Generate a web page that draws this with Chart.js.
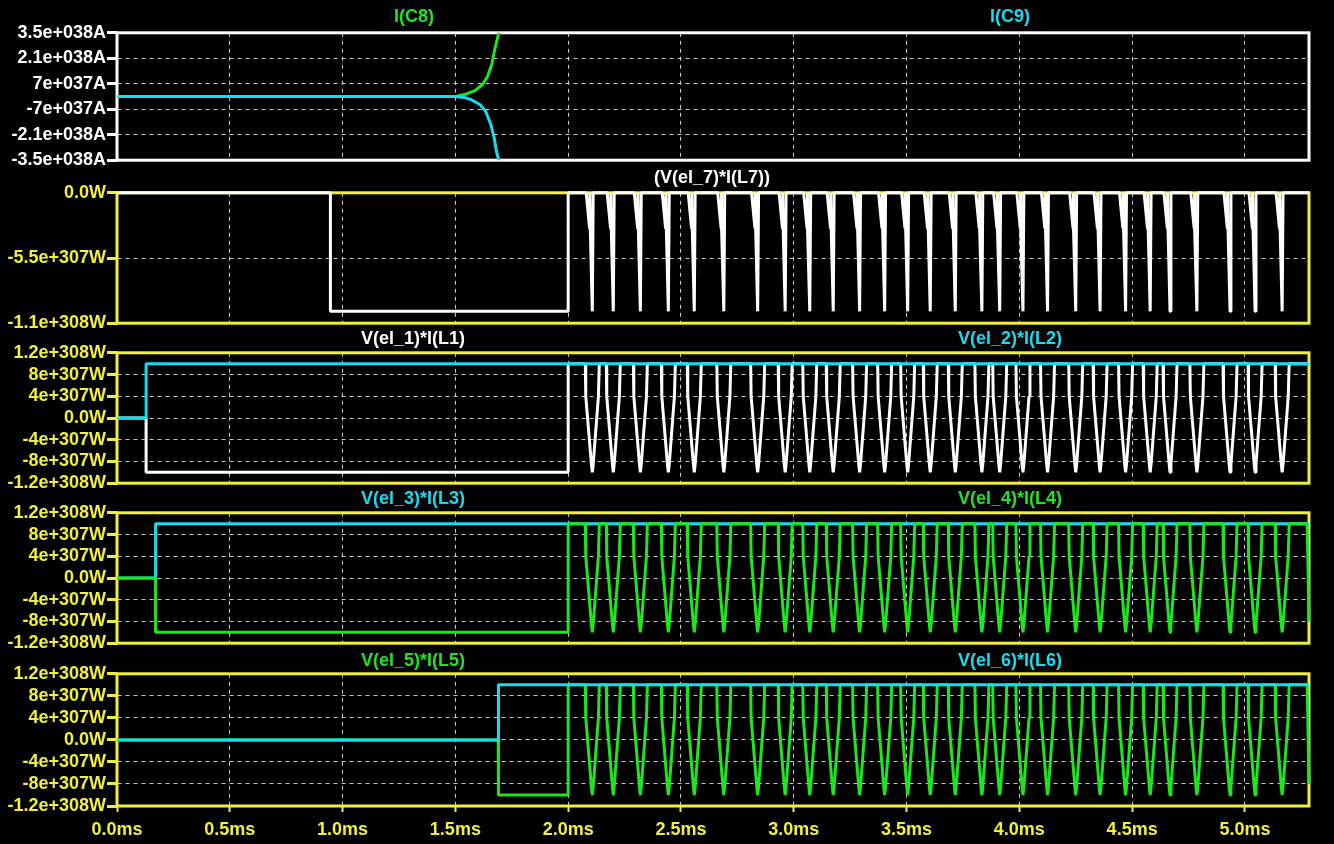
<!DOCTYPE html>
<html>
<head>
<meta charset="utf-8">
<script src="https://cdn.jsdelivr.net/npm/chart.js@4.4.0/dist/chart.umd.min.js"></script>
<style>
    html, body { margin: 0; padding: 0; background: #000; width: 1334px; height: 844px; overflow: hidden; }
    .pane { position: absolute; left: 0; }
    .trace { position: absolute; font: bold 18px 'Liberation Sans', Arial, sans-serif; white-space: nowrap; transform: translate(-50%, -50%); line-height: 20px; }
</style>
</head>
<body>
<canvas id="pane1" class="pane"></canvas>
<canvas id="pane2" class="pane"></canvas>
<canvas id="pane3" class="pane"></canvas>
<canvas id="pane4" class="pane"></canvas>
<canvas id="pane5" class="pane"></canvas>

<div class="trace" style="left:414px;top:16px;color:#1ee61e">I(C8)</div>
<div class="trace" style="left:1010px;top:16px;color:#16dcf0">I(C9)</div>
<div class="trace" style="left:712px;top:177px;color:#ffffff">(V(el_7)*I(L7))</div>
<div class="trace" style="left:413px;top:338px;color:#ffffff">V(el_1)*I(L1)</div>
<div class="trace" style="left:1010px;top:338px;color:#16dcf0">V(el_2)*I(L2)</div>
<div class="trace" style="left:413px;top:498px;color:#16dcf0">V(el_3)*I(L3)</div>
<div class="trace" style="left:1010px;top:498px;color:#1ee61e">V(el_4)*I(L4)</div>
<div class="trace" style="left:413px;top:660px;color:#1ee61e">V(el_5)*I(L5)</div>
<div class="trace" style="left:1010px;top:660px;color:#16dcf0">V(el_6)*I(L6)</div>

<script>
// ---- time axis (ms) ----
const xTicks = [0, 0.5, 1.0, 1.5, 2.0, 2.5, 3.0, 3.5, 4.0, 4.5, 5.0];
const xTickLabels = ['0.0ms', '0.5ms', '1.0ms', '1.5ms', '2.0ms', '2.5ms', '3.0ms', '3.5ms', '4.0ms', '4.5ms', '5.0ms'];
const xEnd = 5.284;

// ---- y axes (values kept in scaled units, the doubles would overflow otherwise) ----
// pane 1 in units of 1e37 A
const iTicks = [35, 21, 7, -7, -21, -35];
const iTickLabels = ['3.5e+038A', '2.1e+038A', '7e+037A', '-7e+037A', '-2.1e+038A', '-3.5e+038A'];
// pane 2 in units of 1e307 W
const l7Ticks = [0, -5.5, -11];
const l7TickLabels = ['0.0W', '-5.5e+307W', '-1.1e+308W'];
// panes 3-5 in units of 1e307 W
const pTicks = [12, 8, 4, 0, -4, -8, -12];
const pTickLabels = ['1.2e+308W', '8e+307W', '4e+307W', '0.0W', '-4e+307W', '-8e+307W', '-1.2e+308W'];

// ---- capacitor currents [ms, 1e37 A] ----
const iC8 = [[0, 0], [1.5, 0], [1.547, 1.3], [1.587, 3.2], [1.618, 6.3], [1.642, 10.8], [1.662, 17.9], [1.673, 25.1], [1.684, 30.5], [1.692, 35]];
const iC9 = [[0, 0], [1.5, 0], [1.539, -0.5], [1.571, -1.8], [1.61, -4.5], [1.634, -8.1], [1.657, -15.3], [1.673, -23.3], [1.681, -29.6], [1.692, -35]];

// ---- pulse bottoms after 2 ms (ms), same instants in every power pane ----
const pulseTimes = [2.107, 2.200, 2.320, 2.444, 2.559, 2.690, 2.840, 2.962, 3.071, 3.175,
                    3.292, 3.403, 3.505, 3.605, 3.716, 3.834, 3.913, 4.016, 4.125, 4.250,
                    4.358, 4.471, 4.580, 4.668, 4.787, 4.934, 5.045, 5.165];

// pulse outlines: [ms from pulse bottom, fraction of level]
const narrowPulse = [[-0.027, 0], [-0.012, -0.3], [-0.011, 0], [-0.009, -0.3], [0, -1], [0.004, 0]];
const vPulse = [[-0.031, 1], [-0.029, 0.4], [-0.004, -0.85], [0, -1], [0.004, -0.85], [0.027, 0.4], [0.031, 1]];

// ---- step parts of the power traces [ms, 1e307 W] ----
const l7Head = [[0, 0], [0.946, 0], [0.946, -10], [2.0, -10], [2.0, 0]];
const l7Tail = [[xEnd, 0]];
const l1Head = [[0, 0], [0.129, 0], [0.129, -10], [2.0, -10], [2.0, 10]];
const l1Tail = [[xEnd, 10]];
const l2 = [[0, 0], [0.129, 0], [0.129, 10], [xEnd, 10]];
const l3 = [[0, 0], [0.171, 0], [0.171, 10], [xEnd, 10]];
const l4Head = [[0, 0], [0.171, 0], [0.171, -10], [2.0, -10], [2.0, 10]];
const l4Tail = [[5.276, 10], [xEnd, -8]];
const l5Head = [[0, 0], [1.690, 0], [1.690, -5], [1.692, -10], [2.0, -10], [2.0, 10]];
const l5Tail = [[5.276, 10], [xEnd, -8]];
const l6 = [[0, 0], [1.690, 0], [1.690, 5], [1.692, 10], [xEnd, 10]];

const YELLOW = '#f0ef3c';
const WHITE = '#ffffff';
const GREEN = '#1ee61e';
const CYAN = '#16dcf0';
const GRID = '#c8c8c8';
const DASH = [4, 4];
const FONT = { family: "'Liberation Sans', Arial, sans-serif", size: 18, weight: 'bold' };

const toPts = arr => arr.map(p => ({ x: p[0], y: p[1] }));

function withPulses(head, shape, level, tail) {
    const pts = toPts(head);
    pulseTimes.forEach(t => shape.forEach(s => pts.push({ x: t + s[0], y: s[1] * level })));
    return pts.concat(toPts(tail));
}

const framePlugin = {
    id: 'frame',
    beforeDatasetsDraw(chart, args, opts) {
        const { ctx, chartArea: a } = chart;
        ctx.save();
        ctx.strokeStyle = opts.color;
        ctx.lineWidth = 3;
        ctx.strokeRect(a.left, a.top, a.right - a.left, a.bottom - a.top);
        ctx.restore();
    }
};

// the first dataset is painted last, so list the trace that sits on top first
function trace(data, color) {
    return { data: data, borderColor: color, borderWidth: 3, borderJoinStyle: 'bevel', pointRadius: 0, tension: 0, clip: 3 };
}

function makePane(id, top, bottom, color, yTicks, yLabels, datasets, withXLabels) {
    const canvas = document.getElementById(id);
    const xh = withXLabels ? 38 : 10;
    canvas.width = 1334;
    canvas.height = (bottom - top) + 10 + xh;
    canvas.style.top = (top - 10) + 'px';

    new Chart(canvas, {
        type: 'line',
        data: { datasets: datasets },
        plugins: [framePlugin],
        options: {
            responsive: false,
            animation: false,
            devicePixelRatio: 1,
            layout: { padding: { top: 10, right: 1334 - 1309, bottom: 0, left: 0 } },
            plugins: { legend: { display: false }, tooltip: { enabled: false }, frame: { color: color } },
            scales: {
                x: {
                    type: 'linear',
                    min: 0,
                    max: xEnd,
                    afterBuildTicks: s => { s.ticks = xTicks.map(v => ({ value: v })); },
                    afterFit: s => { s.height = xh; },
                    grid: { color: GRID, lineWidth: 1, borderDash: DASH, drawTicks: withXLabels, tickLength: 6, tickColor: color, tickWidth: 2, tickBorderDash: [] },
                    border: { display: true, width: 0.01, color: 'rgba(0,0,0,0)', dash: DASH },
                    ticks: {
                        display: withXLabels,
                        autoSkip: false,
                        maxRotation: 0,
                        padding: 7,
                        color: color,
                        font: FONT,
                        callback: (v, i) => xTickLabels[i]
                    }
                },
                y: {
                    min: yTicks[yTicks.length - 1],
                    max: yTicks[0],
                    afterBuildTicks: s => { s.ticks = yTicks.slice().reverse().map(v => ({ value: v })); },
                    afterFit: s => { s.width = 117; },
                    grid: { color: GRID, lineWidth: 1, borderDash: DASH, drawTicks: true, tickLength: 10, tickColor: color, tickWidth: 3, tickBorderDash: [] },
                    border: { display: true, width: 0.01, color: 'rgba(0,0,0,0)', dash: DASH },
                    ticks: {
                        autoSkip: false,
                        padding: 1,
                        color: color,
                        font: FONT,
                        callback: v => yLabels[yTicks.indexOf(v)]
                    }
                }
            }
        }
    });
}

makePane('pane1', 31, 162, WHITE, iTicks, iTickLabels, [
    trace(toPts(iC9), CYAN),
    trace(toPts(iC8), GREEN)
], false);

makePane('pane2', 191, 325, YELLOW, l7Ticks, l7TickLabels, [
    trace(withPulses(l7Head, narrowPulse, 10, l7Tail), WHITE)
], false);

makePane('pane3', 351, 485, YELLOW, pTicks, pTickLabels, [
    trace(toPts(l2), CYAN),
    trace(withPulses(l1Head, vPulse, 10, l1Tail), WHITE)
], false);

makePane('pane4', 511, 645, YELLOW, pTicks, pTickLabels, [
    trace(withPulses(l4Head, vPulse, 10, l4Tail), GREEN),
    trace(toPts(l3), CYAN)
], false);

makePane('pane5', 672, 806, YELLOW, pTicks, pTickLabels, [
    trace(toPts(l6), CYAN),
    trace(withPulses(l5Head, vPulse, 10, l5Tail), GREEN)
], true);
</script>
</body>
</html>
